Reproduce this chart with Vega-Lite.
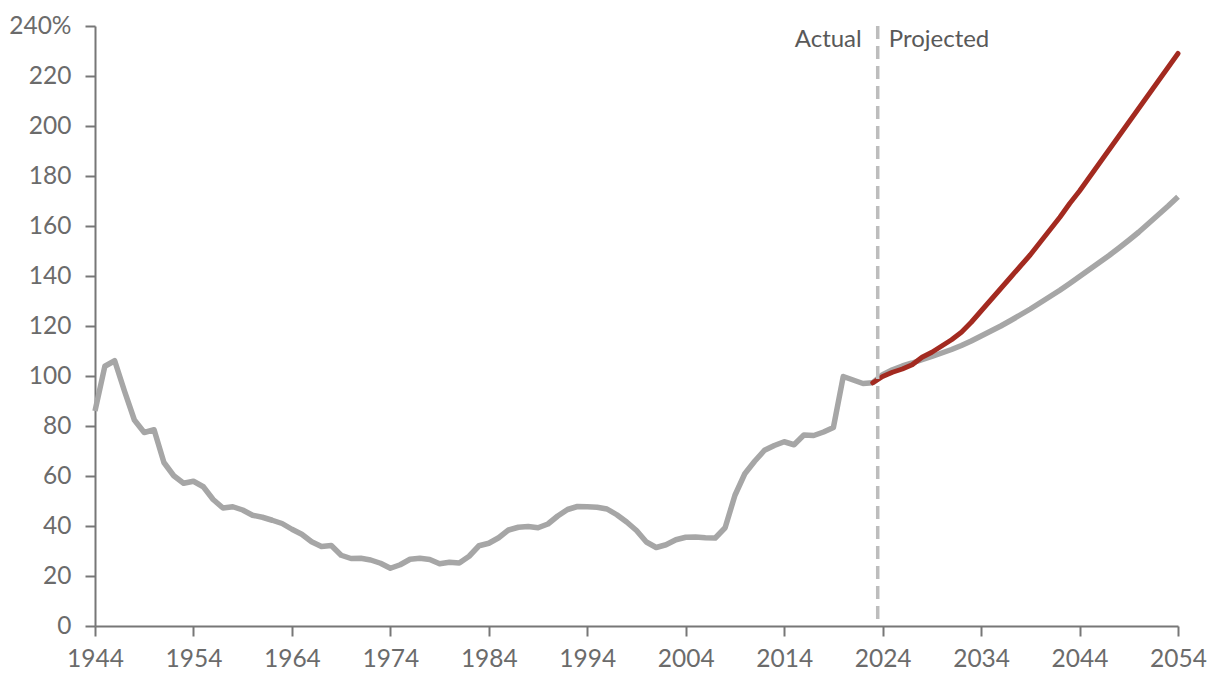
{
  "$schema": "https://vega.github.io/schema/vega-lite/v6.json",
  "width": 1083,
  "height": 600,
  "autosize": {"type": "none"},
  "padding": {"left": 95, "top": 26, "right": 42, "bottom": 62},
  "background": "#ffffff",
  "config": {
    "font": "Lato",
    "view": {"stroke": null},
    "axis": {
      "grid": false,
      "title": null,
      "labelFont": "Lato",
      "labelFontSize": 24.5,
      "labelColor": "#6b6b6b",
      "domainColor": "#777777",
      "domainWidth": 2,
      "tickColor": "#777777",
      "tickWidth": 2,
      "tickSize": 10
    }
  },
  "layer": [
    {
      "data": {"name": "series"},
      "transform": [{"filter": "datum.series != 'alternative'"}],
      "mark": {"type": "line", "color": "#a6a6a6", "strokeWidth": 5.5, "strokeJoin": "round"},
      "encoding": {
        "x": {
          "field": "year",
          "type": "quantitative",
          "scale": {"domain": [1944, 2054], "nice": false, "zero": false},
          "axis": {
            "values": [1944, 1954, 1964, 1974, 1984, 1994, 2004, 2014, 2024, 2034, 2044, 2054],
            "format": "d",
            "labelPadding": 11,
            "labelFlush": false
          }
        },
        "y": {
          "field": "pct",
          "type": "quantitative",
          "scale": {"domain": [0, 240], "nice": false},
          "axis": {
            "values": [0, 20, 40, 60, 80, 100, 120, 140, 160, 180, 200, 220, 240],
            "labelExpr": "datum.value == 240 ? '240%' : datum.label",
            "labelPadding": 14
          }
        },
        "detail": {"field": "series"}
      }
    },
    {
      "data": {"name": "series"},
      "transform": [{"filter": "datum.series == 'alternative'"}],
      "mark": {"type": "line", "color": "#a32a20", "strokeWidth": 5, "strokeCap": "round", "strokeJoin": "round"},
      "encoding": {
        "x": {"field": "year", "type": "quantitative"},
        "y": {"field": "pct", "type": "quantitative"}
      }
    },
    {
      "data": {"values": [{"year": 2023.5}]},
      "mark": {"type": "rule", "color": "#bdbdbd", "strokeWidth": 3.5, "strokeDash": [13, 7]},
      "encoding": {"x": {"field": "year", "type": "quantitative"}}
    },
    {
      "data": {"values": [{"year": 2023.5, "pct": 234.4, "label": "Actual"}]},
      "mark": {"type": "text", "align": "right", "baseline": "middle", "dx": -16, "fontSize": 24, "color": "#595959", "font": "Lato"},
      "encoding": {"x": {"field": "year", "type": "quantitative"}, "y": {"field": "pct", "type": "quantitative"}, "text": {"field": "label"}}
    },
    {
      "data": {"values": [{"year": 2023.5, "pct": 234.4, "label": "Projected"}]},
      "mark": {"type": "text", "align": "left", "baseline": "middle", "dx": 11, "fontSize": 24, "color": "#595959", "font": "Lato"},
      "encoding": {"x": {"field": "year", "type": "quantitative"}, "y": {"field": "pct", "type": "quantitative"}, "text": {"field": "label"}}
    }
  ],
  "datasets": {
    "series": [
      {"year": 1944, "pct": 86.0, "series": "actual"},
      {"year": 1945, "pct": 103.9, "series": "actual"},
      {"year": 1946, "pct": 106.1, "series": "actual"},
      {"year": 1947, "pct": 93.9, "series": "actual"},
      {"year": 1948, "pct": 82.4, "series": "actual"},
      {"year": 1949, "pct": 77.4, "series": "actual"},
      {"year": 1950, "pct": 78.5, "series": "actual"},
      {"year": 1951, "pct": 65.4, "series": "actual"},
      {"year": 1952, "pct": 60.1, "series": "actual"},
      {"year": 1953, "pct": 57.1, "series": "actual"},
      {"year": 1954, "pct": 57.9, "series": "actual"},
      {"year": 1955, "pct": 55.7, "series": "actual"},
      {"year": 1956, "pct": 50.6, "series": "actual"},
      {"year": 1957, "pct": 47.2, "series": "actual"},
      {"year": 1958, "pct": 47.7, "series": "actual"},
      {"year": 1959, "pct": 46.4, "series": "actual"},
      {"year": 1960, "pct": 44.3, "series": "actual"},
      {"year": 1961, "pct": 43.5, "series": "actual"},
      {"year": 1962, "pct": 42.3, "series": "actual"},
      {"year": 1963, "pct": 41.0, "series": "actual"},
      {"year": 1964, "pct": 38.7, "series": "actual"},
      {"year": 1965, "pct": 36.7, "series": "actual"},
      {"year": 1966, "pct": 33.7, "series": "actual"},
      {"year": 1967, "pct": 31.8, "series": "actual"},
      {"year": 1968, "pct": 32.2, "series": "actual"},
      {"year": 1969, "pct": 28.3, "series": "actual"},
      {"year": 1970, "pct": 27.0, "series": "actual"},
      {"year": 1971, "pct": 27.1, "series": "actual"},
      {"year": 1972, "pct": 26.4, "series": "actual"},
      {"year": 1973, "pct": 25.1, "series": "actual"},
      {"year": 1974, "pct": 23.1, "series": "actual"},
      {"year": 1975, "pct": 24.5, "series": "actual"},
      {"year": 1976, "pct": 26.7, "series": "actual"},
      {"year": 1977, "pct": 27.1, "series": "actual"},
      {"year": 1978, "pct": 26.6, "series": "actual"},
      {"year": 1979, "pct": 24.9, "series": "actual"},
      {"year": 1980, "pct": 25.5, "series": "actual"},
      {"year": 1981, "pct": 25.2, "series": "actual"},
      {"year": 1982, "pct": 27.9, "series": "actual"},
      {"year": 1983, "pct": 32.1, "series": "actual"},
      {"year": 1984, "pct": 33.1, "series": "actual"},
      {"year": 1985, "pct": 35.3, "series": "actual"},
      {"year": 1986, "pct": 38.4, "series": "actual"},
      {"year": 1987, "pct": 39.5, "series": "actual"},
      {"year": 1988, "pct": 39.8, "series": "actual"},
      {"year": 1989, "pct": 39.3, "series": "actual"},
      {"year": 1990, "pct": 40.8, "series": "actual"},
      {"year": 1991, "pct": 44.0, "series": "actual"},
      {"year": 1992, "pct": 46.6, "series": "actual"},
      {"year": 1993, "pct": 47.8, "series": "actual"},
      {"year": 1994, "pct": 47.7, "series": "actual"},
      {"year": 1995, "pct": 47.5, "series": "actual"},
      {"year": 1996, "pct": 46.8, "series": "actual"},
      {"year": 1997, "pct": 44.5, "series": "actual"},
      {"year": 1998, "pct": 41.6, "series": "actual"},
      {"year": 1999, "pct": 38.2, "series": "actual"},
      {"year": 2000, "pct": 33.6, "series": "actual"},
      {"year": 2001, "pct": 31.4, "series": "actual"},
      {"year": 2002, "pct": 32.5, "series": "actual"},
      {"year": 2003, "pct": 34.5, "series": "actual"},
      {"year": 2004, "pct": 35.5, "series": "actual"},
      {"year": 2005, "pct": 35.6, "series": "actual"},
      {"year": 2006, "pct": 35.3, "series": "actual"},
      {"year": 2007, "pct": 35.2, "series": "actual"},
      {"year": 2008, "pct": 39.3, "series": "actual"},
      {"year": 2009, "pct": 52.3, "series": "actual"},
      {"year": 2010, "pct": 60.9, "series": "actual"},
      {"year": 2011, "pct": 65.9, "series": "actual"},
      {"year": 2012, "pct": 70.3, "series": "actual"},
      {"year": 2013, "pct": 72.2, "series": "actual"},
      {"year": 2014, "pct": 73.7, "series": "actual"},
      {"year": 2015, "pct": 72.5, "series": "actual"},
      {"year": 2016, "pct": 76.4, "series": "actual"},
      {"year": 2017, "pct": 76.2, "series": "actual"},
      {"year": 2018, "pct": 77.6, "series": "actual"},
      {"year": 2019, "pct": 79.4, "series": "actual"},
      {"year": 2020, "pct": 99.8, "series": "actual"},
      {"year": 2021, "pct": 98.4, "series": "actual"},
      {"year": 2022, "pct": 97.0, "series": "actual"},
      {"year": 2023, "pct": 97.3, "series": "actual"},
      {"year": 2023, "pct": 97.3, "series": "baseline"},
      {"year": 2024, "pct": 100.5, "series": "baseline"},
      {"year": 2025, "pct": 102.5, "series": "baseline"},
      {"year": 2026, "pct": 104.0, "series": "baseline"},
      {"year": 2027, "pct": 105.2, "series": "baseline"},
      {"year": 2028, "pct": 106.5, "series": "baseline"},
      {"year": 2029, "pct": 107.8, "series": "baseline"},
      {"year": 2030, "pct": 109.2, "series": "baseline"},
      {"year": 2031, "pct": 110.6, "series": "baseline"},
      {"year": 2032, "pct": 112.2, "series": "baseline"},
      {"year": 2033, "pct": 114.0, "series": "baseline"},
      {"year": 2034, "pct": 116.0, "series": "baseline"},
      {"year": 2035, "pct": 118.0, "series": "baseline"},
      {"year": 2036, "pct": 120.0, "series": "baseline"},
      {"year": 2037, "pct": 122.2, "series": "baseline"},
      {"year": 2038, "pct": 124.5, "series": "baseline"},
      {"year": 2039, "pct": 126.8, "series": "baseline"},
      {"year": 2040, "pct": 129.3, "series": "baseline"},
      {"year": 2041, "pct": 131.8, "series": "baseline"},
      {"year": 2042, "pct": 134.3, "series": "baseline"},
      {"year": 2043, "pct": 137.0, "series": "baseline"},
      {"year": 2044, "pct": 139.8, "series": "baseline"},
      {"year": 2045, "pct": 142.6, "series": "baseline"},
      {"year": 2046, "pct": 145.4, "series": "baseline"},
      {"year": 2047, "pct": 148.2, "series": "baseline"},
      {"year": 2048, "pct": 151.2, "series": "baseline"},
      {"year": 2049, "pct": 154.3, "series": "baseline"},
      {"year": 2050, "pct": 157.5, "series": "baseline"},
      {"year": 2051, "pct": 161.0, "series": "baseline"},
      {"year": 2052, "pct": 164.5, "series": "baseline"},
      {"year": 2053, "pct": 168.0, "series": "baseline"},
      {"year": 2054, "pct": 171.7, "series": "baseline"},
      {"year": 2023, "pct": 97.3, "series": "alternative"},
      {"year": 2024, "pct": 99.8, "series": "alternative"},
      {"year": 2025, "pct": 101.5, "series": "alternative"},
      {"year": 2026, "pct": 102.8, "series": "alternative"},
      {"year": 2027, "pct": 104.5, "series": "alternative"},
      {"year": 2028, "pct": 107.5, "series": "alternative"},
      {"year": 2029, "pct": 109.5, "series": "alternative"},
      {"year": 2030, "pct": 112.0, "series": "alternative"},
      {"year": 2031, "pct": 114.5, "series": "alternative"},
      {"year": 2032, "pct": 117.5, "series": "alternative"},
      {"year": 2033, "pct": 121.5, "series": "alternative"},
      {"year": 2034, "pct": 126.0, "series": "alternative"},
      {"year": 2035, "pct": 130.5, "series": "alternative"},
      {"year": 2036, "pct": 135.0, "series": "alternative"},
      {"year": 2037, "pct": 139.5, "series": "alternative"},
      {"year": 2038, "pct": 144.0, "series": "alternative"},
      {"year": 2039, "pct": 148.5, "series": "alternative"},
      {"year": 2040, "pct": 153.5, "series": "alternative"},
      {"year": 2041, "pct": 158.5, "series": "alternative"},
      {"year": 2042, "pct": 163.5, "series": "alternative"},
      {"year": 2043, "pct": 169.0, "series": "alternative"},
      {"year": 2044, "pct": 174.0, "series": "alternative"},
      {"year": 2045, "pct": 179.5, "series": "alternative"},
      {"year": 2046, "pct": 185.0, "series": "alternative"},
      {"year": 2047, "pct": 190.5, "series": "alternative"},
      {"year": 2048, "pct": 196.0, "series": "alternative"},
      {"year": 2049, "pct": 201.5, "series": "alternative"},
      {"year": 2050, "pct": 207.0, "series": "alternative"},
      {"year": 2051, "pct": 212.5, "series": "alternative"},
      {"year": 2052, "pct": 218.0, "series": "alternative"},
      {"year": 2053, "pct": 223.5, "series": "alternative"},
      {"year": 2054, "pct": 229.0, "series": "alternative"}
    ]
  }
}
